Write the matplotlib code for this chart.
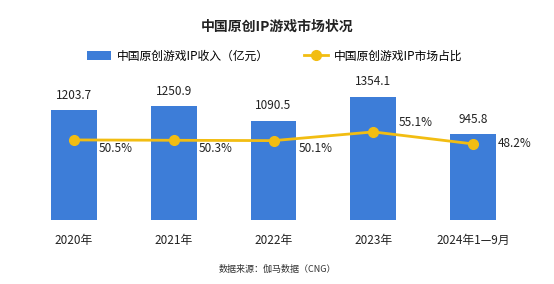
import matplotlib.pyplot as plt

plt.rcParams['font.family'] = ['Noto Sans CJK SC', 'DejaVu Sans']

# data
years = ['2020年', '2021年', '2022年', '2023年', '2024年1—9月']
revenue = [1203.7, 1250.9, 1090.5, 1354.1, 945.8]
share = [50.5, 50.3, 50.1, 55.1, 48.2]

blue = '#3d7dd8'
gold = '#f2bd12'

fig = plt.figure(figsize=(5.54, 2.84), dpi=100)
ax = fig.add_axes([24 / 554, 64 / 284, 499 / 554, 145 / 284])
ax2 = ax.twinx()

x = range(len(years))
bars = ax.bar(x, revenue, width=0.46, color=blue, label='中国原创游戏IP收入（亿元）')
for i, v in enumerate(revenue):
    ax.annotate(f'{v}', (i, v), xytext=(0, 6), textcoords='offset points',
                ha='center', va='bottom', fontsize=8.5, color='#222222')

line, = ax2.plot(x, share, color=gold, lw=2, marker='o', ms=7,
                 label='中国原创游戏IP市场占比')
# label offsets (points) so they sit like the original
offs = [(18, -6), (18, -6), (18, -6), (18, 6.5), (18, 0)]
for i, v in enumerate(share):
    ax2.annotate(f'{v}%', (i, v), xytext=offs[i], textcoords='offset points',
                 ha='left', va='center', fontsize=8.5, color='#222222')

ax.set_xlim(-0.5, 4.5)
ax.set_ylim(0, 1592)
ax2.set_ylim(4.5, 87.8)
ax.set_xticks(list(x))
ax.set_xticklabels(years, fontsize=8.5, color='#222222')
ax.tick_params(axis='x', length=0, pad=10)
ax.set_yticks([])
ax2.set_yticks([])
for a in (ax, ax2):
    for s in a.spines.values():
        s.set_visible(False)

fig.text(0.5, 1 - 27 / 284, '中国原创IP游戏市场状况', ha='center', va='center',
         fontsize=10, fontweight='bold', color='#222222')
fig.legend(handles=[bars, line], loc='center', bbox_to_anchor=(0.496, 1 - 56 / 284),
           ncol=2, frameon=False, fontsize=8.5, handlelength=2.0, columnspacing=3,
           handletextpad=0.5)
fig.text(0.5, 1 - 269 / 284, '数据来源：伽马数据（CNG）', ha='center', va='center',
         fontsize=6.5, color='#333333')

fig.savefig('out.png', dpi=100)
